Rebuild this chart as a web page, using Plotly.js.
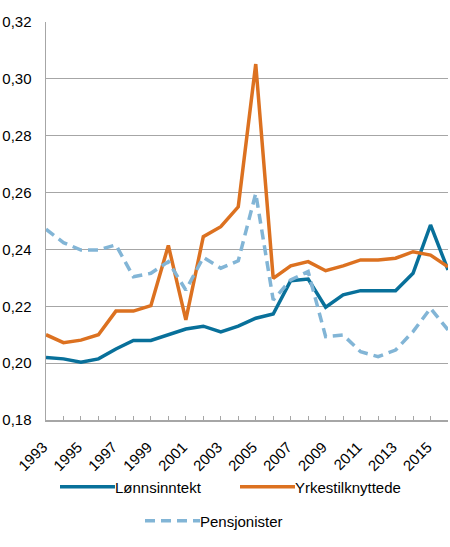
<!DOCTYPE html>
<html>
<head>
<meta charset="utf-8">
<script src="https://cdn.plot.ly/plotly-3.0.1.min.js"></script>
<style>html,body{margin:0;padding:0;background:#fff;}#chart{width:450px;height:547px;}</style>
</head>
<body>
<div id="chart"></div>
<script>
const years = [1993,1994,1995,1996,1997,1998,1999,2000,2001,2002,2003,2004,2005,2006,2007,2008,2009,2010,2011,2012,2013,2014,2015,2016];
const lonnsinntekt = [0.202,0.2015,0.2003,0.2015,0.205,0.208,0.208,0.210,0.212,0.213,0.211,0.213,0.2158,0.2173,0.229,0.2296,0.2197,0.224,0.2255,0.2255,0.2255,0.2316,0.2486,0.2328];
const yrkestilknyttede = [0.210,0.2072,0.2081,0.210,0.2183,0.2183,0.2202,0.2414,0.2152,0.2445,0.248,0.255,0.3052,0.2298,0.2342,0.2357,0.2325,0.2342,0.2363,0.2363,0.2369,0.2392,0.238,0.2339];
const pensjonister = [0.2471,0.2424,0.2398,0.2398,0.2416,0.2304,0.2316,0.2357,0.2257,0.2372,0.2334,0.2360,0.2597,0.2222,0.2293,0.2322,0.2093,0.2099,0.2040,0.2023,0.2046,0.2111,0.2193,0.2117];
const tickYears = years;
const tickLabels = years.map(y => (y % 2 === 1 ? String(y) : ''));
const seriesNames = ['Lønnsinntekt','Yrkestilknyttede','Pensjonister'];

const font = {family: 'Liberation Sans, Arial, sans-serif', size: 15, color: '#000'};

const traces = [
  {x: years, y: lonnsinntekt, name: seriesNames[0], type: 'scatter', mode: 'lines',
   line: {color: '#08709a', width: 3.5}, legend: 'legend'},
  {x: years, y: yrkestilknyttede, name: seriesNames[1], type: 'scatter', mode: 'lines',
   line: {color: '#dc7120', width: 3.5}, legend: 'legend3'},
  {x: years, y: pensjonister, name: seriesNames[2], type: 'scatter', mode: 'lines',
   line: {color: '#82b5d6', width: 3.5, dash: '10px,6px'}, legend: 'legend2'}
];

function legendAt(xpx, ypx) {
  return {orientation: 'h', xref: 'container', yref: 'container',
    x: xpx / 450, xanchor: 'left', y: 1 - ypx / 547, yanchor: 'middle',
    font: font, bgcolor: 'rgba(0,0,0,0)'};
}

const layout = {
  width: 450, height: 547,
  margin: {l: 46, r: 2, t: 22, b: 127},
  paper_bgcolor: '#fff', plot_bgcolor: '#fff',
  separators: ', ',
  font: font,
  showlegend: true,
  xaxis: {
    range: [1993, 2016], tickvals: tickYears, ticktext: tickLabels, automargin: false,
    tickangle: -45, ticks: 'inside', ticklen: 4, tickcolor: '#a6a6a6', tickwidth: 1,
    ticklabelshift: -3, ticklabelstandoff: 11,
    showline: true, linecolor: '#a6a6a6', linewidth: 1.5, showgrid: false, zeroline: false,
    tickfont: font, fixedrange: true
  },
  yaxis: {
    range: [0.18, 0.32], dtick: 0.02, tick0: 0.18, tickformat: '.2f', automargin: false,
    showline: true, linecolor: '#a6a6a6', linewidth: 1.5,
    showgrid: true, gridcolor: '#a6a6a6', gridwidth: 1.2, zeroline: false,
    ticks: '', ticklabelstandoff: 10, tickfont: font, fixedrange: true
  },
  legend: legendAt(75, 487),
  legend3: legendAt(255, 487),
  legend2: legendAt(160, 521)
};

Plotly.newPlot('chart', traces, layout, {displayModeBar: false, staticPlot: true}).then(gd => {
  gd.querySelectorAll('g.legendlines path').forEach(p => p.setAttribute('d', 'M-15,0h55'));
  gd.querySelectorAll('g.scrollbox').forEach(s => s.removeAttribute('clip-path'));
});
</script>
</body>
</html>
